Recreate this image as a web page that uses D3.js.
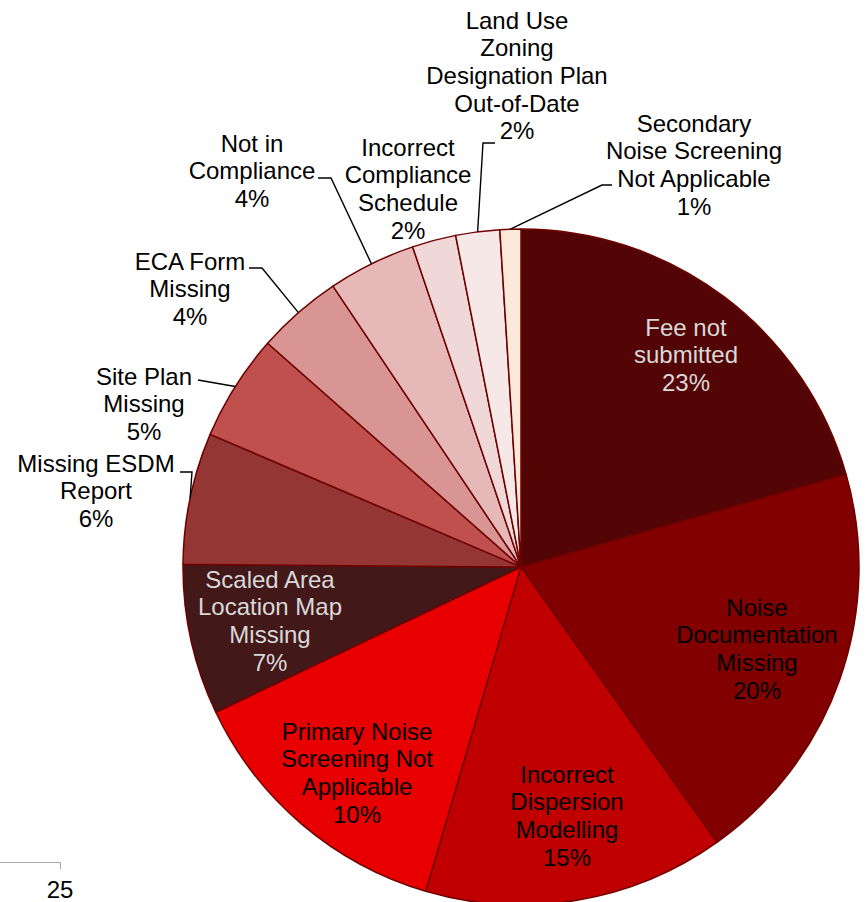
<!DOCTYPE html>
<html>
<head>
<meta charset="utf-8">
<script src="https://cdn.jsdelivr.net/npm/d3@7.9.0/dist/d3.min.js"></script>
<style>
  html, body { margin: 0; padding: 0; background: #fff; }
  svg { display: block; }
  text { font-family: "Liberation Sans", Arial, sans-serif; }
</style>
</head>
<body>
<svg id="chart" width="867" height="902"></svg>
<script>
// categories, clockwise from 12 o'clock
const categories = [
  'Fee not submitted',
  'Noise Documentation Missing',
  'Incorrect Dispersion Modelling',
  'Primary Noise Screening Not Applicable',
  'Scaled Area Location Map Missing',
  'Missing ESDM Report',
  'Site Plan Missing',
  'ECA Form Missing',
  'Not in Compliance',
  'Incorrect Compliance Schedule',
  'Land Use Zoning Designation Plan Out-of-Date',
  'Secondary Noise Screening Not Applicable'
];

// slice shares as drawn in the picture
const shares = [20.6, 19.6, 14.4, 13.4, 7.2, 6.3, 5.1, 4.1, 4.2, 2.1, 2.1, 1.0];

// percentage text printed on each label
const pctLabels = ['23%', '20%', '15%', '10%', '7%', '6%', '5%', '4%', '4%', '2%', '2%', '1%'];

// how the label text wraps
const labelLines = [
  ['Fee not', 'submitted'],
  ['Noise', 'Documentation', 'Missing'],
  ['Incorrect', 'Dispersion', 'Modelling'],
  ['Primary Noise', 'Screening Not', 'Applicable'],
  ['Scaled Area', 'Location Map', 'Missing'],
  ['Missing ESDM', 'Report'],
  ['Site Plan', 'Missing'],
  ['ECA Form', 'Missing'],
  ['Not in', 'Compliance'],
  ['Incorrect', 'Compliance', 'Schedule'],
  ['Land Use', 'Zoning', 'Designation Plan', 'Out-of-Date'],
  ['Secondary', 'Noise Screening', 'Not Applicable']
];

const colors = ['#530505', '#820000', '#c00000', '#e80000', '#421819', '#943634',
  '#c0504d', '#d99594', '#e6b9b8', '#f0d8d8', '#f7e8e8', '#fde9d9'];
const textColors = ['#d9d9d9', '#000', '#000', '#000', '#d9d9d9', '#000',
  '#000', '#000', '#000', '#000', '#000', '#000'];

// label placement: centre x, y of first line
const labelPos = [
  [686, 327], [757, 607], [567, 774], [357, 731], [270, 579], [96, 463],
  [144, 376], [190, 261], [252, 143], [408, 147], [517, 20], [694, 123]
];
// leader lines: points from label side towards the slice edge (null = none)
const leaders = [
  null, null, null, null, null,
  [[180, 472], [192, 472]],
  [[198, 380]],
  [[249, 268], [262, 268]],
  [[318, 178], [331, 178]],
  null,
  [[495, 143], [483, 143]],
  [[612, 185], [602, 185]]
];

const cx = 521, cy = 567, r = 338;
const lineH = 27.7;
const fontSize = 24;

const svg = d3.select('#chart');
const g = svg.append('g').attr('transform', `translate(${cx},${cy})`);

const pie = d3.pie().sort(null).value((d) => d);
const arcGen = d3.arc().innerRadius(0).outerRadius(r);
const arcs = pie(shares);

g.selectAll('path')
  .data(arcs)
  .join('path')
  .attr('d', arcGen)
  .attr('fill', (d, i) => colors[i])
  .attr('stroke', '#6e0000')
  .attr('stroke-width', 1.5)
  .attr('stroke-linejoin', 'round');

// leader lines end on the arc at the slice middle
arcs.forEach((a, i) => {
  if (!leaders[i]) return;
  let mid = (a.startAngle + a.endAngle) / 2;
  let end = [cx + r * Math.sin(mid), cy - r * Math.cos(mid)];
  let pts = leaders[i].concat([end]);
  svg.append('path')
    .attr('d', d3.line()(pts))
    .attr('fill', 'none')
    .attr('stroke', '#000')
    .attr('stroke-width', 1.4);
});

// labels
categories.forEach((c, i) => {
  let lines = labelLines[i].concat([pctLabels[i]]);
  let [x, y] = labelPos[i];
  let t = svg.append('text')
    .attr('text-anchor', 'middle')
    .attr('font-size', fontSize)
    .attr('fill', textColors[i]);
  lines.forEach((ln, j) => {
    t.append('tspan')
      .attr('x', x)
      .attr('y', y + 8.5 + j * lineH)
      .text(ln);
  });
});

// page footer remnant
svg.append('path')
  .attr('d', 'M0,862.5H60.5V869')
  .attr('fill', 'none')
  .attr('stroke', '#a6a6a6')
  .attr('stroke-width', 1);
svg.append('text')
  .attr('x', 60)
  .attr('y', 898)
  .attr('text-anchor', 'middle')
  .attr('font-size', fontSize)
  .attr('fill', '#000')
  .text('25');
</script>
</body>
</html>
